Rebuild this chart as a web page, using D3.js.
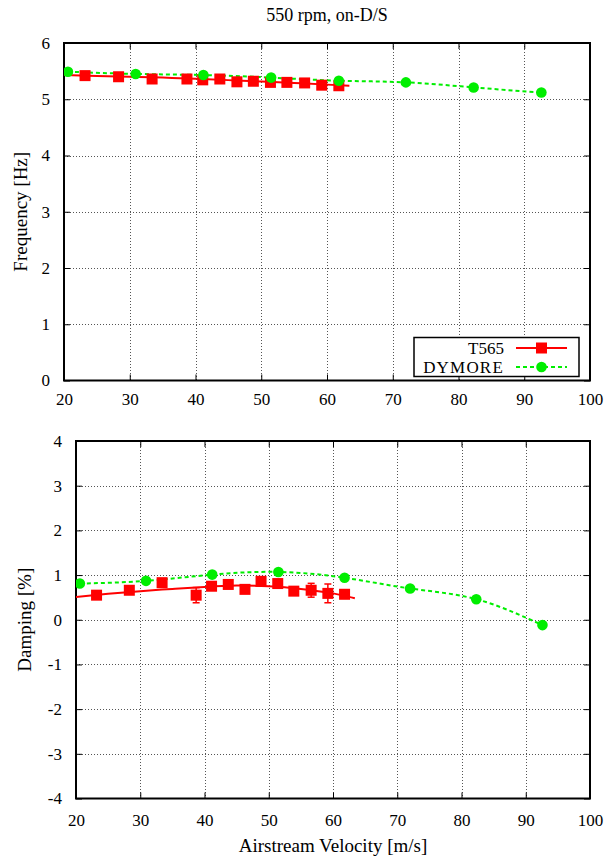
<!DOCTYPE html>
<html>
<head>
<meta charset="utf-8">
<script src="https://cdn.jsdelivr.net/npm/d3@7"></script>
<style>
  html, body { margin: 0; padding: 0; background: #fff; }
  svg { display: block; }
  text { font-family: "Liberation Serif", "DejaVu Serif", serif; fill: #000; }
</style>
</head>
<body>
<svg id="chart" width="616" height="861"></svg>
<script>
// ---------------- data ----------------
const title = "550 rpm, on-D/S";
const xLabel = "Airstream Velocity [m/s]";
const freqLabel = "Frequency [Hz]";
const dampLabel = "Damping [%]";
const seriesNames = ["T565", "DYMORE"];

const xTicks = [20, 30, 40, 50, 60, 70, 80, 90, 100];
const freqTicks = [0, 1, 2, 3, 4, 5, 6];
const dampTicks = [-4, -3, -2, -1, 0, 1, 2, 3, 4];

// T565 measurements
const t565Velocity = [23.2, 28.3, 33.4, 38.7, 41.1, 43.7, 46.3, 48.8, 51.4, 53.9, 56.6, 59.2, 61.8];
const t565Frequency = [5.42, 5.40, 5.36, 5.36, 5.345, 5.36, 5.31, 5.32, 5.30, 5.30, 5.29, 5.25, 5.24];
const t565Damping = [0.55, 0.66, 0.83, 0.55, 0.75, 0.79, 0.68, 0.86, 0.81, 0.64, 0.66, 0.59, 0.57];
const t565DampingErr = [0.03, 0.03, 0.03, 0.17, 0.08, 0.03, 0.03, 0.04, 0.03, 0.03, 0.155, 0.21, 0.03];

// T565 fit curves
const fitVelocity = [20, 25, 30, 35, 40, 45, 50, 55, 60, 63.4];
const fitFrequency = [5.43, 5.415, 5.40, 5.385, 5.365, 5.34, 5.315, 5.29, 5.26, 5.24];
const fitDamping = [0.51, 0.58, 0.64, 0.69, 0.735, 0.765, 0.75, 0.69, 0.59, 0.48];

// DYMORE predictions
const dymVelocity = [20.6, 30.9, 41.2, 51.5, 61.8, 72.0, 82.3, 92.6];
const dymFrequency = [5.49, 5.45, 5.43, 5.385, 5.33, 5.30, 5.21, 5.12];
const dymDamping = [0.81, 0.87, 1.01, 1.07, 0.94, 0.70, 0.46, -0.12];

// ---------------- drawing ----------------
const svg = d3.select("#chart");
const RED = "#ff0000";
const GREEN = "#00ee00";
const TICK_FONT = 17;
const TITLE_FONT = 18;
const LABEL_FONT = 19;
const LEGEND_FONT = 17;
const fmt = d => String(d); // plain hyphen-minus like the reference

svg.append("text")
  .attr("x", 327).attr("y", 21)
  .attr("text-anchor", "middle")
  .attr("font-size", TITLE_FONT)
  .text(title);

function panel(opts) {
  const { left, right, top, bottom, yDomain, yTicks, yValuesT, yFit, yValuesD, yErr, yLabel, yLabelX, xPad } = opts;
  const x = d3.scaleLinear().domain([20, 100]).range([left, right]);
  const y = d3.scaleLinear().domain(yDomain).range([bottom, top]);
  const g = svg.append("g");

  // grid
  const grid = g.append("g")
    .attr("stroke", "#555").attr("stroke-width", 1).attr("stroke-dasharray", "1,2");
  grid.selectAll(".gx").data(xTicks.slice(1, -1)).join("line")
    .attr("x1", d => Math.round(x(d)) + 0.5).attr("x2", d => Math.round(x(d)) + 0.5)
    .attr("y1", top).attr("y2", bottom);
  grid.selectAll(".gy").data(yTicks.slice(1, -1)).join("line")
    .attr("y1", d => Math.round(y(d)) + 0.5).attr("y2", d => Math.round(y(d)) + 0.5)
    .attr("x1", left).attr("x2", right);

  // axes (gnuplot style: inward ticks, mirrored)
  const axB = d3.axisBottom(x).tickValues(xTicks).tickSize(-6).tickPadding(xPad).tickFormat(fmt);
  const axT = d3.axisTop(x).tickValues(xTicks).tickSize(-6).tickFormat("");
  const axL = d3.axisLeft(y).tickValues(yTicks).tickSize(-6).tickPadding(14).tickFormat(fmt);
  const axR = d3.axisRight(y).tickValues(yTicks).tickSize(-6).tickFormat("");
  const styleAxis = sel => {
    sel.select(".domain").remove();
    sel.selectAll(".tick line").attr("stroke", "#000").attr("stroke-width", 1);
    sel.selectAll("text").attr("font-size", TICK_FONT)
      .attr("font-family", '"Liberation Serif", "DejaVu Serif", serif').attr("fill", "#000");
  };
  g.append("g").attr("transform", `translate(0,${bottom})`).call(axB).call(styleAxis);
  g.append("g").attr("transform", `translate(0,${top})`).call(axT).call(styleAxis);
  g.append("g").attr("transform", `translate(${left},0)`).call(axL).call(styleAxis);
  g.append("g").attr("transform", `translate(${right},0)`).call(axR).call(styleAxis);

  // border
  g.append("rect")
    .attr("x", left).attr("y", top).attr("width", right - left).attr("height", bottom - top)
    .attr("fill", "none").attr("stroke", "#000").attr("stroke-width", 2);

  // y label
  g.append("text")
    .attr("transform", `translate(${yLabelX},${(top + bottom) / 2}) rotate(-90)`)
    .attr("text-anchor", "middle")
    .attr("font-size", LABEL_FONT)
    .text(yLabel);

  const clip = "clip" + Math.round(top);
  svg.append("clipPath").attr("id", clip).append("rect")
    .attr("x", left).attr("y", top).attr("width", right - left).attr("height", bottom - top);
  const data = g.append("g").attr("clip-path", `url(#${clip})`);

  // T565 fit line
  const fitPts = fitVelocity.map((v, i) => [v, yFit[i]]);
  data.append("path")
    .attr("d", d3.line().x(d => x(d[0])).y(d => y(d[1])).curve(d3.curveNatural)(fitPts))
    .attr("fill", "none").attr("stroke", RED).attr("stroke-width", 2);

  // DYMORE dashed line
  const dPts = dymVelocity.map((v, i) => [v, yValuesD[i]]);
  data.append("path")
    .attr("d", d3.line().x(d => x(d[0])).y(d => y(d[1])).curve(d3.curveNatural)(dPts))
    .attr("fill", "none").attr("stroke", GREEN).attr("stroke-width", 2)
    .attr("stroke-dasharray", "4,3");

  // error bars
  if (yErr) {
    const eb = data.append("g").attr("stroke", RED).attr("stroke-width", 1.5);
    t565Velocity.forEach((v, i) => {
      const cx = x(v), y1 = y(yValuesT[i] - yErr[i]), y2 = y(yValuesT[i] + yErr[i]);
      eb.append("line").attr("x1", cx).attr("x2", cx).attr("y1", y1).attr("y2", y2);
      eb.append("line").attr("x1", cx - 3.5).attr("x2", cx + 3.5).attr("y1", y1).attr("y2", y1);
      eb.append("line").attr("x1", cx - 3.5).attr("x2", cx + 3.5).attr("y1", y2).attr("y2", y2);
    });
  }

  // T565 squares
  data.selectAll(".sq").data(t565Velocity.map((v, i) => [v, yValuesT[i]])).join("rect")
    .attr("x", d => x(d[0]) - 5.5).attr("y", d => y(d[1]) - 5.5)
    .attr("width", 11).attr("height", 11).attr("fill", RED);

  // DYMORE circles
  data.selectAll(".ci").data(dPts).join("circle")
    .attr("cx", d => x(d[0])).attr("cy", d => y(d[1])).attr("r", 5.3).attr("fill", GREEN);

  return { x, y };
}

panel({
  left: 64, right: 590, top: 43, bottom: 380.5,
  yDomain: [0, 6], yTicks: freqTicks,
  yValuesT: t565Frequency, yFit: fitFrequency, yValuesD: dymFrequency,
  yErr: null, yLabel: freqLabel, yLabelX: 27, xPad: 12
});

panel({
  left: 76, right: 590, top: 441, bottom: 798.5,
  yDomain: [-4, 4], yTicks: dampTicks,
  yValuesT: t565Damping, yFit: fitDamping, yValuesD: dymDamping,
  yErr: t565DampingErr, yLabel: dampLabel, yLabelX: 31, xPad: 15
});

// x axis title
svg.append("text")
  .attr("x", 333).attr("y", 852)
  .attr("text-anchor", "middle")
  .attr("font-size", LABEL_FONT)
  .text(xLabel);

// legend (top panel)
const lg = svg.append("g");
lg.append("rect")
  .attr("x", 414).attr("y", 337.5).attr("width", 165).attr("height", 39)
  .attr("fill", "#fff").attr("stroke", "#000").attr("stroke-width", 1.5);
const legendRows = [
  { name: seriesNames[0], color: RED, dash: null, marker: "square", y: 348 },
  { name: seriesNames[1], color: GREEN, dash: "4,3", marker: "circle", y: 367 }
];
legendRows.forEach(r => {
  lg.append("text").attr("x", 504).attr("y", r.y + 6)
    .attr("text-anchor", "end").attr("font-size", LEGEND_FONT)
    .attr("letter-spacing", r.name.length > 4 ? 1.2 : 0).text(r.name);
  lg.append("line").attr("x1", 516).attr("x2", 567).attr("y1", r.y).attr("y2", r.y)
    .attr("stroke", r.color).attr("stroke-width", 2)
    .attr("stroke-dasharray", r.dash);
  if (r.marker === "square") {
    lg.append("rect").attr("x", 541.5 - 5.5).attr("y", r.y - 5.5).attr("width", 11).attr("height", 11).attr("fill", r.color);
  } else {
    lg.append("circle").attr("cx", 541.5).attr("cy", r.y).attr("r", 5.3).attr("fill", r.color);
  }
});
</script>
</body>
</html>
